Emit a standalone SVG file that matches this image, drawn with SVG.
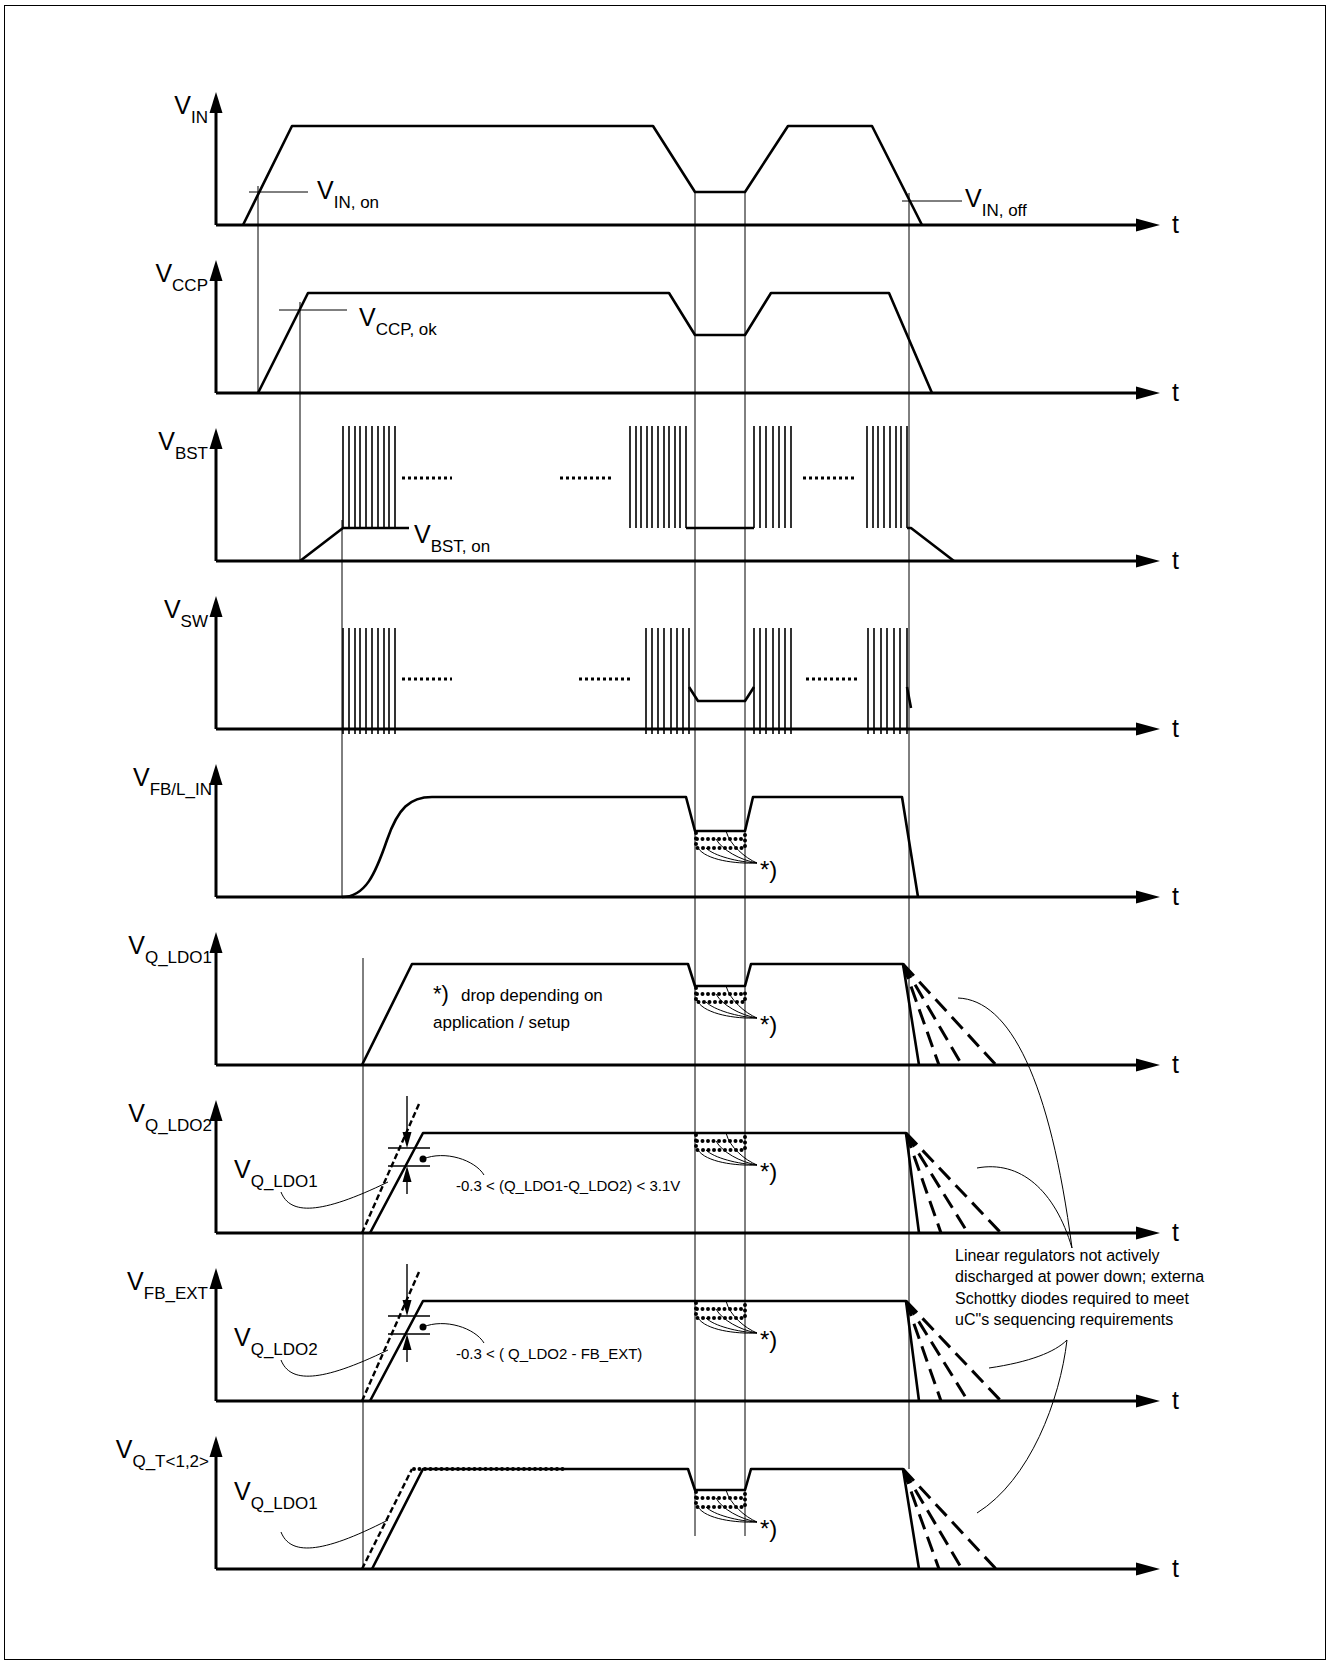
<svg xmlns="http://www.w3.org/2000/svg" width="1330" height="1664" viewBox="0 0 1330 1664">
<style>
text{font-family:"Liberation Sans",Arial,sans-serif;fill:#000}
.v{font-size:25px}
.s{font-size:17px}
.note{font-size:17px}
.small{font-size:15px}
.sig{fill:none;stroke:#000;stroke-width:2.6;stroke-linejoin:round}
.ax{fill:none;stroke:#000;stroke-width:3}
.thin{fill:none;stroke:#000;stroke-width:1}
.pul{fill:none;stroke:#000;stroke-width:1.6}
.dash{fill:none;stroke:#000;stroke-width:3;stroke-dasharray:16 8}
.sdash{fill:none;stroke:#000;stroke-width:2.4;stroke-dasharray:6 3}
.dot{fill:none;stroke:#000;stroke-width:4;stroke-dasharray:0 5.5;stroke-linecap:round}
.sdot{fill:none;stroke:#000;stroke-width:3;stroke-dasharray:3 3}
.arr{fill:#000}
</style>
<defs>
<g id="axes">
<path class="ax" d="M216,0V-114M216,0H1138"/>
<polygon class="arr" points="216,-133 209.5,-112 222.5,-112"/>
<polygon class="arr" points="1160,0 1136,-6.5 1136,6.5"/>
<text x="1172" y="8" class="v">t</text>
</g>
</defs>
<rect x="4.5" y="5.5" width="1321" height="1654" fill="#fff" stroke="#000" stroke-width="1"/>

<g id="connectors">
<path class="thin" d="M258,186V393M300,302V561M342,520V897M363,958V1569M695,192V1536M745,192V1536M909,193V1469"/>
<path class="thin" d="M249,192H308M279,310H347M902,201H962"/>
<path class="thin" d="M726,831C730,845 745,858 757,863M716,839C722,850 740,860 757,863M706,848C714,856 738,862 757,863M698,848C706,860 735,864 757,863"/>
<path class="thin" d="M726,986C730,1000 745,1013 757,1018M716,994C722,1005 740,1015 757,1018M706,1002C714,1010 738,1017 757,1018M698,1002C706,1014 735,1019 757,1018"/>
<path class="thin" d="M726,1133C730,1148 745,1160 757,1165M716,1141C722,1152 740,1162 757,1165M706,1150C714,1158 738,1164 757,1165M698,1150C706,1162 735,1166 757,1165"/>
<path class="thin" d="M726,1301C730,1316 745,1328 757,1333M716,1309C722,1320 740,1330 757,1333M706,1318C714,1326 738,1332 757,1333M698,1318C706,1330 735,1334 757,1333"/>
<path class="thin" d="M726,1490C730,1504 745,1517 757,1522M716,1498C722,1509 740,1519 757,1522M706,1507C714,1515 738,1521 757,1522M698,1507C706,1519 735,1523 757,1522"/>
<path class="thin" d="M281,1192C290,1215 320,1215 388,1182"/>
<path class="thin" d="M281,1360C290,1383 320,1383 388,1350"/>
<path class="thin" d="M281,1532C290,1555 320,1555 388,1520"/>
<path class="thin" d="M423,1159C445,1150 475,1160 484,1175"/>
<path class="thin" d="M423,1327C445,1318 475,1328 484,1343"/>
<path class="thin" d="M958,998C1010,1000 1050,1080 1072,1248"/>
<path class="thin" d="M977,1168C1020,1160 1055,1190 1072,1248"/>
<path class="thin" d="M989,1368C1030,1362 1055,1352 1067,1340"/>
<path class="thin" d="M977,1513C1030,1480 1060,1400 1067,1340"/>
</g>

<g id="vin">
<use href="#axes" transform="translate(0,225)"/>
<text x="208" y="114" class="v" text-anchor="end">V<tspan class="s" dy="9">IN</tspan></text>
<path class="sig" d="M243,225L292,126H653L695,192H745L788,126H872L922,225"/>
<text x="317" y="199" class="v">V<tspan class="s" dy="9">IN, on</tspan></text>
<text x="965" y="207" class="v">V<tspan class="s" dy="9">IN, off</tspan></text>
</g>

<g id="vccp">
<use href="#axes" transform="translate(0,393)"/>
<text x="208" y="282" class="v" text-anchor="end">V<tspan class="s" dy="9">CCP</tspan></text>
<path class="sig" d="M258,393L308,293H669L695,335H745L771,293H889L932,393"/>
<text x="359" y="326" class="v">V<tspan class="s" dy="9">CCP, ok</tspan></text>
</g>

<g id="vbst">
<use href="#axes" transform="translate(0,561)"/>
<text x="208" y="450" class="v" text-anchor="end">V<tspan class="s" dy="9">BST</tspan></text>
<path class="sig" d="M300,561L343,528H409M686,528H754M907,528H911L954,561"/>
<path class="pul" d="M343,528V426M349,528V426M355,528V426M360,528V426M366,528V426M372,528V426M378,528V426M384,528V426M389,528V426M395,528V426"/>
<path class="pul" d="M630,528V426M636,528V426M641,528V426M647,528V426M652,528V426M658,528V426M664,528V426M669,528V426M675,528V426M680,528V426M686,528V426"/>
<path class="pul" d="M754,528V426M760,528V426M766,528V426M773,528V426M779,528V426M785,528V426M791,528V426"/>
<path class="pul" d="M867,528V426M873,528V426M878,528V426M884,528V426M890,528V426M896,528V426M901,528V426M907,528V426"/>
<path class="sdot" d="M402,478H452M560,478H611M803,478H855"/>
<text x="414" y="543" class="v">V<tspan class="s" dy="9">BST, on</tspan></text>
</g>

<g id="vsw">
<use href="#axes" transform="translate(0,729)"/>
<text x="208" y="618" class="v" text-anchor="end">V<tspan class="s" dy="9">SW</tspan></text>
<path class="pul" d="M343,734V628M349,734V628M355,734V628M360,734V628M366,734V628M372,734V628M378,734V628M384,734V628M389,734V628M395,734V628"/>
<path class="pul" d="M646,734V628M652,734V628M658,734V628M664,734V628M671,734V628M677,734V628M683,734V628M689,734V628"/>
<path class="pul" d="M754,734V628M760,734V628M766,734V628M773,734V628M779,734V628M785,734V628M791,734V628"/>
<path class="pul" d="M868,734V628M874,734V628M881,734V628M887,734V628M894,734V628M900,734V628M907,734V628"/>
<path class="sig" d="M689,687L698,701H745L754,687M907,687L911,708"/>
<path class="sdot" d="M402,679H452M579,679H630M806,679H858"/>
</g>

<g id="vfb">
<use href="#axes" transform="translate(0,897)"/>
<text x="212" y="786" class="v" text-anchor="end">V<tspan class="s" dy="9">FB/L_IN</tspan></text>
<path class="sig" d="M342,897C365,897 375,875 387,840C398,808 410,797 432,797H686L695,831H745L753,797H902L918,897"/>
<path class="dot" d="M696,833V848H745V833M697,839H744"/>
<text x="760" y="878" style="font-size:24px">*)</text>
</g>

<g id="vldo1">
<use href="#axes" transform="translate(0,1065)"/>
<text x="212" y="954" class="v" text-anchor="end">V<tspan class="s" dy="9">Q_LDO1</tspan></text>
<path class="sig" d="M362,1065L412,964H688L695,986H745L751,964H903L919,1065"/>
<path class="dot" d="M696,988V1002H745V988M697,994H744"/>
<path class="dash" d="M903,964L939,1065M903,964L962,1065M903,964L996,1065"/>
<text x="760" y="1033" style="font-size:24px">*)</text>
<text x="433" y="1001" style="font-size:22px">*)</text>
<text x="461" y="1001" class="note">drop depending on</text>
<text x="433" y="1028" class="note">application / setup</text>
</g>

<g id="vldo2">
<use href="#axes" transform="translate(0,1233)"/>
<text x="212" y="1122" class="v" text-anchor="end">V<tspan class="s" dy="9">Q_LDO2</tspan></text>
<path class="sig" d="M370,1233L423,1133H906L919,1233"/>
<path class="sdash" d="M362,1233L419,1104"/>
<path class="dot" d="M696,1135V1150H745V1135M697,1141H744"/>
<path class="dash" d="M906,1133L941,1233M906,1133L968,1233M906,1133L1001,1233"/>
<path class="thin" d="M388,1148H430M388,1166H430" style="stroke-width:1.4"/>
<path class="thin" d="M407,1096V1138M407,1194V1176" style="stroke-width:1.4"/>
<polygon class="arr" points="407,1148 402.5,1132 411.5,1132"/>
<polygon class="arr" points="407,1166 402.5,1182 411.5,1182"/>
<circle cx="423" cy="1159" r="3.5"/>
<text x="456" y="1191" class="small">-0.3 &lt; (Q_LDO1-Q_LDO2) &lt; 3.1V</text>
<text x="234" y="1178" class="v">V<tspan class="s" dy="9">Q_LDO1</tspan></text>
<text x="760" y="1180" style="font-size:24px">*)</text>
</g>

<g id="vfbext">
<use href="#axes" transform="translate(0,1401)"/>
<text x="208" y="1290" class="v" text-anchor="end">V<tspan class="s" dy="9">FB_EXT</tspan></text>
<path class="sig" d="M370,1401L423,1301H906L919,1401"/>
<path class="sdash" d="M362,1401L419,1272"/>
<path class="dot" d="M696,1303V1318H745V1303M697,1309H744"/>
<path class="dash" d="M906,1301L941,1401M906,1301L968,1401M906,1301L1001,1401"/>
<path class="thin" d="M388,1316H430M388,1334H430" style="stroke-width:1.4"/>
<path class="thin" d="M407,1264V1306M407,1362V1344" style="stroke-width:1.4"/>
<polygon class="arr" points="407,1316 402.5,1300 411.5,1300"/>
<polygon class="arr" points="407,1334 402.5,1350 411.5,1350"/>
<circle cx="423" cy="1327" r="3.5"/>
<text x="456" y="1359" class="small">-0.3 &lt; ( Q_LDO2 - FB_EXT)</text>
<text x="234" y="1346" class="v">V<tspan class="s" dy="9">Q_LDO2</tspan></text>
<text x="760" y="1348" style="font-size:24px">*)</text>
</g>

<g id="vqt">
<use href="#axes" transform="translate(0,1569)"/>
<text x="209" y="1458" class="v" text-anchor="end">V<tspan class="s" dy="9">Q_T&lt;1,2&gt;</tspan></text>
<path class="sig" d="M372,1569L423,1469H688L695,1490H745L751,1469H903L919,1569"/>
<path class="sdash" d="M362,1569L412,1469"/>
<path class="dot" d="M414,1469H566"/>
<path class="dot" d="M696,1492V1507H745V1492M697,1498H744"/>
<path class="dash" d="M903,1469L939,1569M903,1469L962,1569M903,1469L996,1569"/>
<text x="234" y="1500" class="v">V<tspan class="s" dy="9">Q_LDO1</tspan></text>
<text x="760" y="1537" style="font-size:24px">*)</text>
</g>

<g id="note-linear">
<text x="955" y="1261" style="font-size:16px">Linear regulators not actively</text>
<text x="955" y="1282" style="font-size:16px">discharged at power down; externa</text>
<text x="955" y="1304" style="font-size:16px">Schottky diodes required to meet</text>
<text x="955" y="1325" style="font-size:16px">uC"s sequencing requirements</text>
</g>
</svg>
